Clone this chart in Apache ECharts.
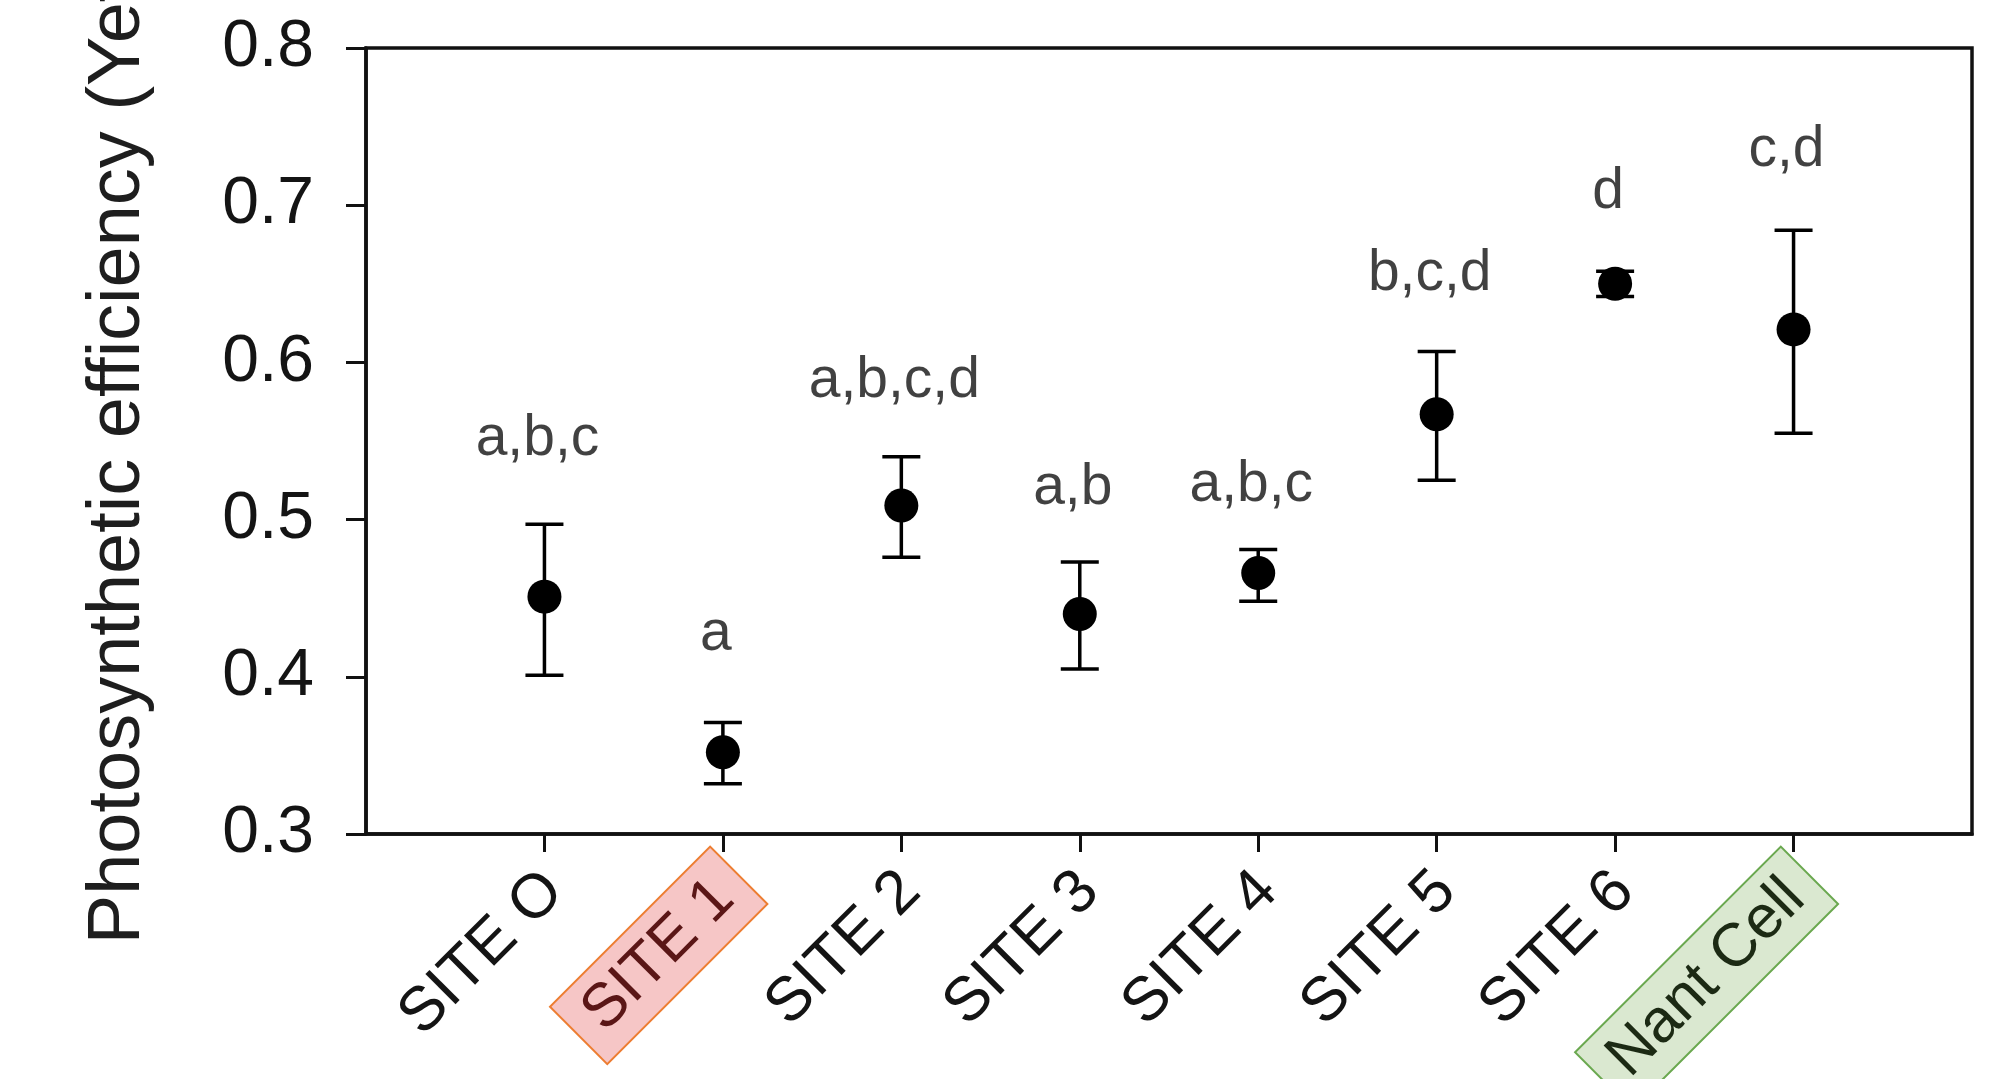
<!DOCTYPE html>
<html>
<head>
<meta charset="utf-8">
<title>Photosynthetic efficiency by site</title>
<script src="https://cdn.jsdelivr.net/npm/echarts@6/dist/echarts.min.js"></script>
<style>
    html, body { margin: 0; padding: 0; background: #ffffff; }
    #chart { width: 1999px; height: 1079px; }
</style>
</head>
<body>
<div id="chart"></div>
<script>
// --- data ---
const sites = ['SITE O', 'SITE 1', 'SITE 2', 'SITE 3', 'SITE 4', 'SITE 5', 'SITE 6', 'Nant Cell'];
const meanValues = [0.451, 0.352, 0.509, 0.440, 0.466, 0.567, 0.650, 0.621];
const upperValues = [0.497, 0.371, 0.540, 0.473, 0.481, 0.607, 0.658, 0.684];
const lowerValues = [0.401, 0.332, 0.476, 0.405, 0.448, 0.525, 0.642, 0.555];
const groupLetters = ['a,b,c', 'a', 'a,b,c,d', 'a,b', 'a,b,c', 'b,c,d', 'd', 'c,d'];
const letterLevels = [0.551, 0.427, 0.588, 0.520, 0.522, 0.656, 0.708, 0.735];
const yMin = 0.3;
const yMax = 0.8;
const yStep = 0.1;

const FONT = '"Liberation Sans", Arial, sans-serif';
const INK = '#141414';

// positions on the x axis: one empty slot before and after the sites
const xPositions = sites.map((s, i) => i + 1);
const labelShift = 0.085; // labels sit a little right of their ticks in the original

function siteLabel(value) {
    const idx = Math.round(value) - 1;
    const name = sites[idx];
    if (name === 'SITE 1') return '{bad|' + name + '}';
    if (name === 'Nant Cell') return '{good|' + name + '}';
    return '{plain|' + name + '}';
}

function renderErrorBar(params, api) {
    const x = api.value(0);
    const lo = api.coord([x, api.value(1)]);
    const hi = api.coord([x, api.value(2)]);
    const half = 19;
    const style = { stroke: '#000', lineWidth: 3.5 };
    return {
        type: 'group',
        children: [
            { type: 'line', shape: { x1: hi[0], y1: hi[1], x2: lo[0], y2: lo[1] }, style: style },
            { type: 'line', shape: { x1: hi[0] - half, y1: hi[1], x2: hi[0] + half, y2: hi[1] }, style: style },
            { type: 'line', shape: { x1: lo[0] - half, y1: lo[1], x2: lo[0] + half, y2: lo[1] }, style: style }
        ]
    };
}

const chart = echarts.init(document.getElementById('chart'), null, { renderer: 'canvas' });

const option = {
    backgroundColor: '#ffffff',
    animation: false,
    grid: {
        left: 366,
        right: 27,
        top: 48,
        bottom: 245,
        outerBoundsMode: 'none',
        containLabel: false,
        show: true,
        borderColor: '#111',
        borderWidth: 3.5,
        backgroundColor: 'transparent'
    },
    xAxis: {
        type: 'value',
        min: 0,
        max: sites.length + 1,
        interval: 1,
        splitLine: { show: false },
        axisLine: { show: true, lineStyle: { color: '#111', width: 3.5 } },
        axisTick: {
            show: true,
            inside: false,
            length: 18,
            lineStyle: { color: '#111', width: 3 },
            customValues: xPositions
        },
        axisLabel: {
            show: true,
            rotate: 45,
            margin: 42,
            customValues: xPositions.map(v => v + labelShift),
            formatter: siteLabel,
            rich: {
                plain: {
                    fontFamily: FONT,
                    fontSize: 62,
                    color: INK,
                    padding: [0, 8, 0, 0]
                },
                bad: {
                    fontFamily: FONT,
                    fontSize: 61,
                    lineHeight: 62,
                    color: '#5a1616',
                    backgroundColor: '#f6c6c6',
                    borderColor: '#ed7d31',
                    borderWidth: 2,
                    padding: [9, 19, 9, 19]
                },
                good: {
                    fontFamily: FONT,
                    fontSize: 61,
                    lineHeight: 62,
                    color: '#1c2a14',
                    backgroundColor: '#dae8d0',
                    borderColor: '#6aa84f',
                    borderWidth: 2,
                    padding: [9, 19, 9, 19]
                }
            }
        }
    },
    yAxis: {
        type: 'value',
        min: yMin,
        max: yMax,
        interval: yStep,
        name: 'Photosynthetic efficiency (Yeff)',
        nameLocation: 'middle',
        nameRotate: 90,
        nameGap: 210,
        nameTextStyle: { fontFamily: FONT, fontSize: 74, color: '#1e1e1e' },
        splitLine: { show: false },
        axisLine: { show: true, lineStyle: { color: '#111', width: 3.5 } },
        axisTick: { show: true, inside: false, length: 20, lineStyle: { color: '#111', width: 3 } },
        axisLabel: {
            margin: 52,
            fontFamily: FONT,
            fontSize: 66,
            color: INK,
            formatter: v => v.toFixed(1)
        }
    },
    series: [
        {
            name: 'error',
            type: 'custom',
            renderItem: renderErrorBar,
            encode: { x: 0, y: [1, 2] },
            data: xPositions.map((x, i) => [x, lowerValues[i], upperValues[i]]),
            z: 2
        },
        {
            name: 'mean',
            type: 'scatter',
            symbol: 'circle',
            symbolSize: 34,
            itemStyle: { color: '#000', opacity: 1 },
            data: xPositions.map((x, i) => [x, meanValues[i]]),
            z: 3
        },
        {
            name: 'letters',
            type: 'scatter',
            symbolSize: 0,
            silent: true,
            data: xPositions.map((x, i) => [x, letterLevels[i]]),
            label: {
                show: true,
                position: 'inside',
                offset: [-7, 0],
                fontFamily: FONT,
                fontSize: 57,
                color: '#111',
                formatter: p => groupLetters[p.dataIndex]
            },
            z: 4
        }
    ]
};

chart.setOption(option);
</script>
</body>
</html>
